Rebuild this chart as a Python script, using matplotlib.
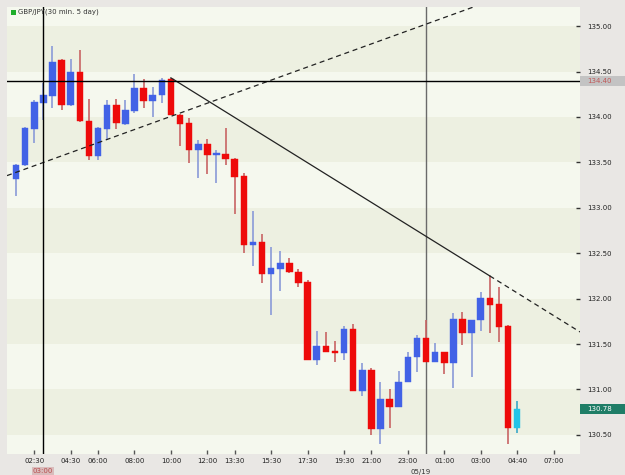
#!/usr/bin/env python3
# GBP/JPY 30 min candles with crosshair and two trend lines -> out.png

import matplotlib
matplotlib.use("Agg")
import matplotlib.pyplot as plt
import matplotlib.transforms as mtrans
from matplotlib.patches import Rectangle

# candle data (index = 30 min bar)
opens = [133.32, 133.47, 133.87, 134.15, 134.23, 134.63, 134.13, 134.50, 133.95, 133.57,
         133.87, 134.13, 133.92, 134.06, 134.32, 134.17, 134.24, 134.42, 134.02, 133.93,
         133.64, 133.70, 133.58, 133.59, 133.54, 133.35, 132.59, 132.62, 132.27, 132.33,
         132.39, 132.29, 132.18, 131.33, 131.48, 131.41, 131.40, 131.67, 130.98, 131.22,
         130.57, 130.89, 130.81, 131.08, 131.36, 131.57, 131.30, 131.41, 131.29, 131.78,
         131.62, 131.77, 132.01, 131.94, 131.70, 130.58]
highs = [133.48, 133.89, 134.19, 134.37, 134.78, 134.64, 134.64, 134.74, 134.20, 133.89,
         134.19, 134.20, 134.19, 134.47, 134.42, 134.33, 134.43, 134.43, 134.03, 133.99,
         133.75, 133.76, 133.64, 133.88, 133.55, 133.38, 132.96, 132.71, 132.57, 132.52,
         132.45, 132.33, 132.21, 131.64, 131.63, 131.53, 131.70, 131.72, 131.29, 131.24,
         131.08, 131.00, 131.20, 131.41, 131.60, 131.77, 131.51, 131.41, 131.84, 131.85,
         131.77, 132.07, 132.25, 132.13, 131.71, 130.87]
lows = [133.13, 133.46, 133.71, 133.97, 134.10, 134.08, 134.12, 133.94, 133.53, 133.53,
        133.75, 133.87, 133.91, 134.04, 134.10, 134.00, 134.15, 134.02, 133.68, 133.49,
        133.33, 133.37, 133.27, 133.47, 132.93, 132.50, 132.36, 132.17, 131.82, 132.08,
        132.28, 132.13, 131.33, 131.27, 131.41, 131.30, 131.33, 130.98, 130.93, 130.50,
        130.40, 130.58, 130.81, 131.08, 131.19, 131.30, 131.30, 131.17, 131.02, 131.49,
        131.14, 131.64, 131.62, 131.52, 130.40, 130.52]
closes = [133.47, 133.88, 134.16, 134.24, 134.61, 134.13, 134.50, 133.95, 133.57, 133.88,
          134.13, 133.93, 134.08, 134.32, 134.17, 134.24, 134.41, 134.02, 133.92, 133.64,
          133.70, 133.58, 133.59, 133.54, 133.34, 132.59, 132.62, 132.27, 132.34, 132.39,
          132.29, 132.17, 131.33, 131.48, 131.41, 131.40, 131.67, 130.98, 131.22, 130.57,
          130.89, 130.81, 131.08, 131.36, 131.57, 131.30, 131.41, 131.29, 131.78, 131.62,
          131.77, 132.01, 131.93, 131.69, 130.58, 130.79]

time_ticks = [2, 6, 9, 13, 17, 21, 24, 28, 32, 36, 39, 43, 47, 51, 55, 59]
time_labels = ["02:30", "04:30", "06:00", "08:00", "10:00", "12:00", "13:30", "15:30",
               "17:30", "19:30", "21:00", "23:00", "01:00", "03:00", "04:40", "07:00"]
price_ticks = [130.50, 131.00, 131.50, 132.00, 132.50, 133.00, 133.50, 134.00, 134.50, 135.00]

cross_bar, cross_label = 3, "03:00"
cross_price = 134.40
day_bar, day_label = 45, "05/19"
last_price = 130.78

# trend lines: two anchor points each (bar index, price)
up_line = [(0, 133.39), (20, 134.115)]
down_line = [(17, 134.43), (52, 132.25)]

X0, X1 = -0.99, 61.9
Y0, Y1 = 130.29, 135.21

BG = "#e9e7e4"
UP, DOWN, LAST = "#4262e6", "#ee0a0a", "#22c4e8"
UP_W, DOWN_W, LAST_W = "#8a9ad8", "#c86464", "#3aa8c8"

fig = plt.figure(figsize=(6.25, 4.75), dpi=100, facecolor=BG)
ax = fig.add_axes([7 / 625, 21 / 475, 573 / 625, 447 / 475])
ax.set_xlim(X0, X1)
ax.set_ylim(Y0, Y1)
for s in ax.spines.values():
    s.set_visible(False)

# alternating horizontal bands
band_edges = [Y0, 130.5, 131.0, 131.5, 132.0, 132.5, 133.0, 133.5, 134.0, 134.5, 135.0, Y1]
for k in range(len(band_edges) - 1):
    col = "#f5f8ee" if k % 2 == 0 else "#edf0e1"
    ax.axhspan(band_edges[k], band_edges[k + 1], color=col, lw=0, zorder=0)

# candles
n = len(opens)
for i in range(n):
    o, h, l, c = opens[i], highs[i], lows[i], closes[i]
    if i == n - 1:
        bc, wc = LAST, LAST_W
    elif c >= o:
        bc, wc = UP, UP_W
    else:
        bc, wc = DOWN, DOWN_W
    ax.vlines(i, l, h, color=wc, lw=1.2, zorder=2)
    bot = min(o, c)
    hgt = max(abs(c - o), 0.02)
    ax.bar(i, hgt, bottom=bot, width=0.72, color=bc, edgecolor=bc, lw=0.3, zorder=3)


def extend(p, q, x):
    (xa, ya), (xb, yb) = p, q
    return ya + (yb - ya) / (xb - xa) * (x - xa)


# rising dashed trend line
ax.plot([X0, 55], [extend(*up_line, X0), extend(*up_line, 55)],
        color="#222222", lw=0.9, ls=(0, (4, 3)), zorder=4)
# falling trend line, solid between anchors, dashed beyond
ax.plot([down_line[0][0], down_line[1][0]], [down_line[0][1], down_line[1][1]],
        color="#222222", lw=0.9, zorder=4)
ax.plot([down_line[1][0], X1], [down_line[1][1], extend(*down_line, X1)],
        color="#222222", lw=0.9, ls=(0, (4, 3)), zorder=4)

# crosshair and day separator
ax.axvline(cross_bar, color="black", lw=1, zorder=5)
ax.axhline(cross_price, color="black", lw=1, zorder=5)
ax.axvline(day_bar, color="#6a6a6a", lw=1, zorder=1.5)

# axes ticks
ax.yaxis.tick_right()
ax.set_yticks(price_ticks)
ax.set_yticklabels([f"{p:.2f}" for p in price_ticks])
ax.tick_params(axis="y", direction="in", length=3, width=1, color="#333333",
               pad=5, labelsize=5, labelcolor="#222222")
ax.set_xticks(time_ticks)
ax.set_xticklabels(time_labels)
ax.tick_params(axis="x", direction="in", length=3, width=1, color="#555555",
               pad=3, labelsize=5, labelcolor="#222222")

# price boxes on the right axis
tr = mtrans.blended_transform_factory(fig.transFigure, ax.transData)
box_h = 0.11
for price, fc, tc in [(cross_price, "#c3c3c3", "#c05858"), (last_price, "#1f7d67", "white")]:
    ax.add_patch(Rectangle((580 / 625, price - box_h / 2), 45 / 625, box_h, transform=tr,
                           facecolor=fc, edgecolor="none", clip_on=False, zorder=6))
    ax.text(587 / 625, price, f"{price:.2f}", transform=tr, fontsize=5, color=tc,
            va="center", ha="left", zorder=7)

# time boxes under the x axis
fig.text(43 / 625, 4 / 475, cross_label, fontsize=5, color="#b84c4c", ha="center",
         va="center", bbox=dict(boxstyle="square,pad=0.15", fc="#d9bcbc", ec="none"))
fig.text(421 / 625, 3 / 475, day_label, fontsize=5, color="#333333", ha="center", va="center")

# title with green marker
fig.add_artist(Rectangle((11 / 625, 1 - 15 / 475), 5 / 625, 5 / 475, transform=fig.transFigure,
                         facecolor="#1fae2a", edgecolor="none"))
fig.text(18 / 625, 1 - 12 / 475, "GBP/JPY(30 min. 5 day)", fontsize=5, color="#333333",
         ha="left", va="center")

fig.savefig("out.png", dpi=100, facecolor=BG)
